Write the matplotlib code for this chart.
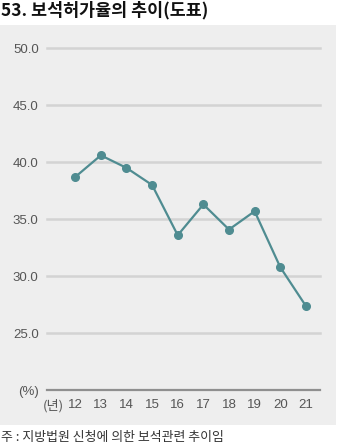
import matplotlib
matplotlib.use("Agg")
import matplotlib.pyplot as plt

plt.rcParams["font.family"] = ["Noto Sans CJK KR", "DejaVu Sans"]

years = [12, 13, 14, 15, 16, 17, 18, 19, 20, 21]
rates = [38.7, 40.6, 39.5, 38.0, 33.6, 36.3, 34.1, 35.7, 30.8, 27.4]
yticks = [20, 25, 30, 35, 40, 45, 50]
ytick_labels = ["(%)", "25.0", "30.0", "35.0", "40.0", "45.0", "50.0"]

line_color = "#4f8c91"
text_color = "#555555"
tick_font = ["Liberation Sans", "Noto Sans CJK KR"]

fig = plt.figure(figsize=(3.4, 4.47), dpi=100)
fig.patch.set_facecolor("white")

# grey panel behind the plot
bg = fig.add_axes([0, 22 / 447, 336 / 340, 400 / 447])
bg.set_facecolor("#eeeeee")
bg.set_xticks([])
bg.set_yticks([])
for s in bg.spines.values():
    s.set_visible(False)

ax = fig.add_axes([47 / 340, 56.5 / 447, 273 / 340, 342.5 / 447])
ax.set_facecolor("none")
ax.set_xlim(10.9, 21.55)
ax.set_ylim(20, 50)

for y in yticks:
    ax.axhline(y, color="#8f8f8f" if y == 20 else "#d3d3d3",
               lw=1.6 if y == 20 else 1.8, clip_on=False, zorder=1)

ax.plot(years, rates, color=line_color, lw=1.6, marker="o", ms=5.5,
        zorder=3, clip_on=False)

for s in ax.spines.values():
    s.set_visible(False)
ax.set_yticks(yticks)
ax.set_yticklabels(ytick_labels, family=tick_font)
ax.set_xticks(years)
ax.set_xticklabels([str(y) for y in years], family=tick_font)
ax.tick_params(length=0, labelsize=9.5, colors=text_color, pad=6)
ax.tick_params(axis="x", pad=6)
ax.annotate("(년)", xy=(11.14, 20), xytext=(0, -10.8), textcoords="offset points",
            ha="center", va="center", fontsize=9.5, color=text_color,
            annotation_clip=False)

fig.text(0.003, 0.977, "53. 보석허가율의 추이(도표)", fontsize=12.5,
         fontweight="bold", color="#111111", ha="left", va="center")
fig.text(0.003, 0.022, "주 : 지방법원 신청에 의한 보석관련 추이임", fontsize=9.3,
         color="#333333", ha="left", va="center")

fig.savefig("out.png", dpi=100)
